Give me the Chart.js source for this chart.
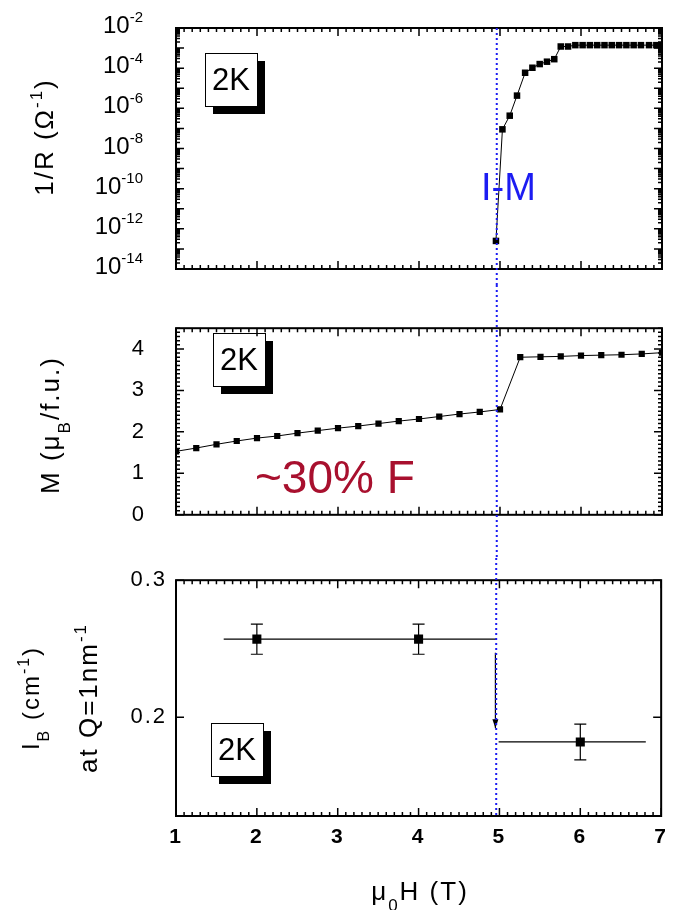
<!DOCTYPE html>
<html>
<head>
<meta charset="utf-8">
<script src="https://cdn.jsdelivr.net/npm/chart.js@4.4.0/dist/chart.umd.min.js"></script>
<style>
body { margin: 0; background: #fff; }
#wrap { position: relative; width: 676px; height: 910px; }
canvas { position: absolute; left: 0; }
</style>
</head>
<body>
<div id="wrap">
<canvas id="resist" width="676" height="285" style="top:0"></canvas>
<canvas id="magnet" width="676" height="273" style="top:285px"></canvas>
<canvas id="sans" width="676" height="352" style="top:558px"></canvas>
</div>
<script>
const FONT = "'Liberation Sans', Arial, sans-serif"
const BLUE = '#1c1cf2'
const RED = '#a8102e'

// field of the insulator-metal transition (T)
const IM_FIELD = 4.96

// top panel: 1/R vs field
const R_FIELD = [4.95, 5.03, 5.12, 5.21, 5.31, 5.40, 5.49, 5.58, 5.67, 5.75, 5.84, 5.93, 6.02, 6.11, 6.20, 6.29, 6.38, 6.47, 6.56, 6.65, 6.74, 6.84, 6.93, 7.0]
const R_INV = [2.5e-13, 9e-8, 4.3e-7, 4.3e-6, 5.9e-5, 1.05e-4, 1.6e-4, 2.1e-4, 2.8e-4, 1.2e-3, 1.2e-3, 1.4e-3, 1.4e-3, 1.4e-3, 1.4e-3, 1.4e-3, 1.4e-3, 1.4e-3, 1.4e-3, 1.4e-3, 1.4e-3, 1.4e-3, 1.4e-3, 1.4e-3]
const R_EXPONENTS = [-2, -4, -6, -8, -10, -12, -14]

// middle panel: magnetisation
const M_FIELD = [1.0, 1.25, 1.5, 1.75, 2.0, 2.25, 2.5, 2.75, 3.0, 3.25, 3.5, 3.75, 4.0, 4.25, 4.5, 4.75, 5.0, 5.25, 5.5, 5.75, 6.0, 6.25, 6.5, 6.75, 7.0]
const M_VAL = [1.53, 1.61, 1.70, 1.78, 1.85, 1.90, 1.97, 2.03, 2.09, 2.14, 2.20, 2.26, 2.31, 2.37, 2.43, 2.48, 2.54, 3.80, 3.81, 3.82, 3.84, 3.85, 3.86, 3.88, 3.91]

// bottom panel: SANS intensity at Q = 1 nm^-1
const SANS_FIELD = [2, 4, 6]
const SANS_IB = [0.257, 0.257, 0.182]
const SANS_ERR = [0.011, 0.011, 0.013]
const LOW_X = [1.59, 4.96]
const LOW_Y = [0.257, 0.257]
const HIGH_X = [4.99, 6.81]
const HIGH_Y = [0.182, 0.182]
const ARROW_X = [4.95, 4.95]
const ARROW_Y = [0.247, 0.192]

const X_MAJOR = [1, 2, 3, 4, 5, 6, 7]

function steps(from, to, step, skip) {
    let out = []
    for (let i = Math.round(from / step); i <= Math.round(to / step); i++) {
        if (skip && i % skip === 0) continue
        out.push(i * step)
    }
    return out
}

function points(xs, ys) {
    return xs.map((x, i) => ({ x: x, y: ys[i] }))
}

// text with sub/superscripts, centred on (x, y) baseline, optionally rotated
function rich(ctx, parts, x, y, size, angle, spacing) {
    ctx.save()
    ctx.translate(x, y)
    ctx.rotate(angle)
    ctx.letterSpacing = spacing + 'px'
    ctx.textAlign = 'left'
    ctx.textBaseline = 'alphabetic'
    ctx.fillStyle = '#000'
    let fonts = parts.map(p => (p[1] ? Math.round(size * 0.65) : size) + 'px ' + FONT)
    let widths = parts.map((p, i) => { ctx.font = fonts[i]; return ctx.measureText(p[0]).width })
    let cx = -widths.reduce((a, b) => a + b, 0) / 2
    parts.forEach((p, i) => {
        ctx.font = fonts[i]
        let dy = p[1] === 'sup' ? -0.42 * size : p[1] === 'sub' ? 0.42 * size : 0
        ctx.fillText(p[0], cx, dy)
        cx += widths[i]
    })
    ctx.restore()
}

function tempBox(ctx, x, y) {
    ctx.fillStyle = '#000'
    ctx.fillRect(x + 8, y + 8, 52, 53)
    ctx.fillStyle = '#fff'
    ctx.fillRect(x, y, 52, 53)
    ctx.strokeStyle = '#000'
    ctx.lineWidth = 1
    ctx.strokeRect(x + 0.5, y + 0.5, 52, 53)
    ctx.fillStyle = '#000'
    ctx.font = '31px ' + FONT
    ctx.textAlign = 'center'
    ctx.textBaseline = 'alphabetic'
    ctx.fillText('2K', x + 26, y + 37)
}

function decor(spec) {
    return {
        id: 'decor',
        beforeDraw(chart) {
            chart.ctx.letterSpacing = '2px'
        },
        afterDatasetsDraw(chart) {
            let ctx = chart.ctx
            let area = chart.chartArea
            let xs = chart.scales.x
            let ys = chart.scales.y
            ctx.save()
            ctx.letterSpacing = '0px'
            if (spec.extra) spec.extra(ctx, xs, ys, area)

            // inward ticks on all four sides
            ctx.strokeStyle = '#000'
            ctx.lineWidth = 1.5
            ctx.beginPath()
            let xt = (vals, len) => vals.forEach(v => {
                let p = xs.getPixelForValue(v)
                ctx.moveTo(p, area.bottom); ctx.lineTo(p, area.bottom - len)
                ctx.moveTo(p, area.top); ctx.lineTo(p, area.top + len)
            })
            let yt = (vals, len) => vals.forEach(v => {
                let p = ys.getPixelForValue(v)
                ctx.moveTo(area.left, p); ctx.lineTo(area.left + len, p)
                ctx.moveTo(area.right, p); ctx.lineTo(area.right - len, p)
            })
            xt(X_MAJOR, 8)
            xt(steps(1, 7, 0.1, 10), 4)
            yt(spec.yMajor, 8)
            yt(spec.yMinor, 4)
            ctx.stroke()
            ctx.lineWidth = 2
            ctx.strokeRect(area.left, area.top, area.right - area.left, area.bottom - area.top)

            // dotted I-M marker
            let bx = xs.getPixelForValue(IM_FIELD)
            ctx.strokeStyle = BLUE
            ctx.lineWidth = 2
            ctx.setLineDash([2, 3])
            ctx.beginPath()
            ctx.moveTo(bx, spec.dotTop)
            ctx.lineTo(bx, spec.dotBottom)
            ctx.stroke()
            ctx.restore()
        }
    }
}

const BASE = {
    responsive: false,
    animation: false,
    devicePixelRatio: 1,
    plugins: { legend: { display: false }, tooltip: { enabled: false } }
}

// ---- top panel
let logMinor = []
for (let e = -14; e < -2; e++) for (let k = 2; k <= 9; k++) logMinor.push(k * Math.pow(10, e))

new Chart(document.getElementById('resist'), {
    type: 'scatter',
    data: {
        datasets: [{
            data: points(R_FIELD, R_INV),
            showLine: true,
            borderColor: '#000',
            borderWidth: 1,
            backgroundColor: '#000',
            pointStyle: 'rect',
            pointRadius: 4.6,
            pointBorderWidth: 0,
            clip: 0
        }]
    },
    options: Object.assign({}, BASE, {
        layout: { padding: { left: 176, right: 14, top: 28, bottom: 16 } },
        scales: {
            x: { type: 'linear', min: 1, max: 7, display: false },
            y: { type: 'logarithmic', min: 1e-14, max: 1e-2, display: false }
        }
    }),
    plugins: [decor({
        yMajor: steps(-14, -2, 1).map(e => Math.pow(10, e)),
        yMinor: logMinor,
        dotTop: 28,
        dotBottom: 285,
        extra(ctx, xs, ys) {
            R_EXPONENTS.forEach(e => {
                let p = ys.getPixelForValue(Math.pow(10, e))
                ctx.fillStyle = '#000'
                ctx.textBaseline = 'alphabetic'
                ctx.font = '15px ' + FONT
                let sup = String(e)
                let w = ctx.measureText(sup).width
                ctx.textAlign = 'left'
                ctx.fillText(sup, 143 - w, p - 5.6)
                ctx.font = '24px ' + FONT
                ctx.textAlign = 'right'
                ctx.fillText('10', 143 - w, p + 5)
            })
            rich(ctx, [['1/R (Ω', ''], ['-1', 'sup'], [')', '']], 53, 137, 26, -Math.PI / 2, 2)
            tempBox(ctx, 205, 53)
            ctx.fillStyle = BLUE
            ctx.font = '38px ' + FONT
            ctx.textAlign = 'left'
            ctx.fillText('I-M', 481, 200)
        }
    })]
})

// ---- middle panel
new Chart(document.getElementById('magnet'), {
    type: 'scatter',
    data: {
        datasets: [{
            data: points(M_FIELD, M_VAL),
            showLine: true,
            borderColor: '#000',
            borderWidth: 1,
            backgroundColor: '#000',
            pointStyle: 'rect',
            pointRadius: 4.4,
            pointBorderWidth: 0,
            clip: 0
        }]
    },
    options: Object.assign({}, BASE, {
        layout: { padding: { left: 0, right: 14, top: 16, bottom: 15 } },
        scales: {
            x: { type: 'linear', min: 1, max: 7, display: false },
            y: {
                type: 'linear', min: 0, max: 4.5,
                grid: { display: false, drawTicks: false },
                border: { display: false },
                ticks: { stepSize: 1, includeBounds: false, padding: 30, color: '#000', font: { family: FONT, size: 22 } },
                afterFit(s) { s.width = 176 }
            }
        }
    }),
    plugins: [decor({
        yMajor: [0, 1, 2, 3, 4],
        yMinor: steps(0, 4.5, 0.1, 10),
        dotTop: 0,
        dotBottom: 273,
        extra(ctx) {
            rich(ctx, [['M (μ', ''], ['B', 'sub'], ['/f.u.)', '']], 59, 140, 26, -Math.PI / 2, 2)
            tempBox(ctx, 213, 48)
            ctx.fillStyle = RED
            ctx.font = '46px ' + FONT
            ctx.textAlign = 'left'
            ctx.textBaseline = 'alphabetic'
            ctx.fillText('~30% F', 255, 208)
        }
    })]
})

// ---- bottom panel
const lineSet = (xs, ys) => ({
    data: points(xs, ys), showLine: true, borderColor: '#000', borderWidth: 1.2, pointRadius: 0
})

new Chart(document.getElementById('sans'), {
    type: 'scatter',
    data: {
        datasets: [
            lineSet(LOW_X, LOW_Y),
            lineSet(HIGH_X, HIGH_Y),
            lineSet(ARROW_X, ARROW_Y),
            {
                data: points(SANS_FIELD, SANS_IB),
                backgroundColor: '#000',
                pointStyle: 'rect',
                pointRadius: 6.4,
                pointBorderWidth: 0
            }
        ]
    },
    options: Object.assign({}, BASE, {
        layout: { padding: { left: 0, right: 14, top: 16, bottom: 0 } },
        scales: {
            x: {
                type: 'linear', min: 1, max: 7,
                grid: { display: false, drawTicks: false },
                border: { display: false },
                ticks: { stepSize: 1, padding: 9, color: '#000', font: { family: FONT, size: 21, weight: 'bold' } },
                afterFit(s) { s.height = 94 }
            },
            y: {
                type: 'linear', min: 0.128, max: 0.3,
                grid: { display: false, drawTicks: false },
                border: { display: false },
                ticks: {
                    stepSize: 0.1, includeBounds: false, padding: 9, color: '#000',
                    font: { family: FONT, size: 22 },
                    callback: v => v.toFixed(1)
                },
                afterFit(s) { s.width = 176 }
            }
        }
    }),
    plugins: [decor({
        yMajor: [0.2, 0.3],
        yMinor: [],
        dotTop: 0,
        dotBottom: 260,
        extra(ctx, xs, ys) {
            // error bars
            ctx.strokeStyle = '#000'
            ctx.lineWidth = 1.2
            ctx.beginPath()
            SANS_FIELD.forEach((f, i) => {
                let px = xs.getPixelForValue(f)
                let lo = ys.getPixelForValue(SANS_IB[i] - SANS_ERR[i])
                let hi = ys.getPixelForValue(SANS_IB[i] + SANS_ERR[i])
                ctx.moveTo(px, lo); ctx.lineTo(px, hi)
                ctx.moveTo(px - 6, lo); ctx.lineTo(px + 6, lo)
                ctx.moveTo(px - 6, hi); ctx.lineTo(px + 6, hi)
            })
            ctx.stroke()
            // arrow head
            let ax = xs.getPixelForValue(ARROW_X[1])
            let ay = ys.getPixelForValue(ARROW_Y[1])
            ctx.fillStyle = '#000'
            ctx.beginPath()
            ctx.moveTo(ax, ay)
            ctx.lineTo(ax - 3, ay - 9)
            ctx.lineTo(ax + 3, ay - 9)
            ctx.closePath()
            ctx.fill()

            tempBox(ctx, 211, 165)
            rich(ctx, [['I', ''], ['B', 'sub'], [' (cm', ''], ['-1', 'sup'], [')', '']], 39, 140, 24, -Math.PI / 2, 2)
            rich(ctx, [['at Q=1nm', ''], ['-1', 'sup']], 97, 140, 26, -Math.PI / 2, 2)
            rich(ctx, [['μ', ''], ['0', 'sub'], ['H (T)', '']], 420, 342, 26, 0, 2)
        }
    })]
})
</script>
</body>
</html>
